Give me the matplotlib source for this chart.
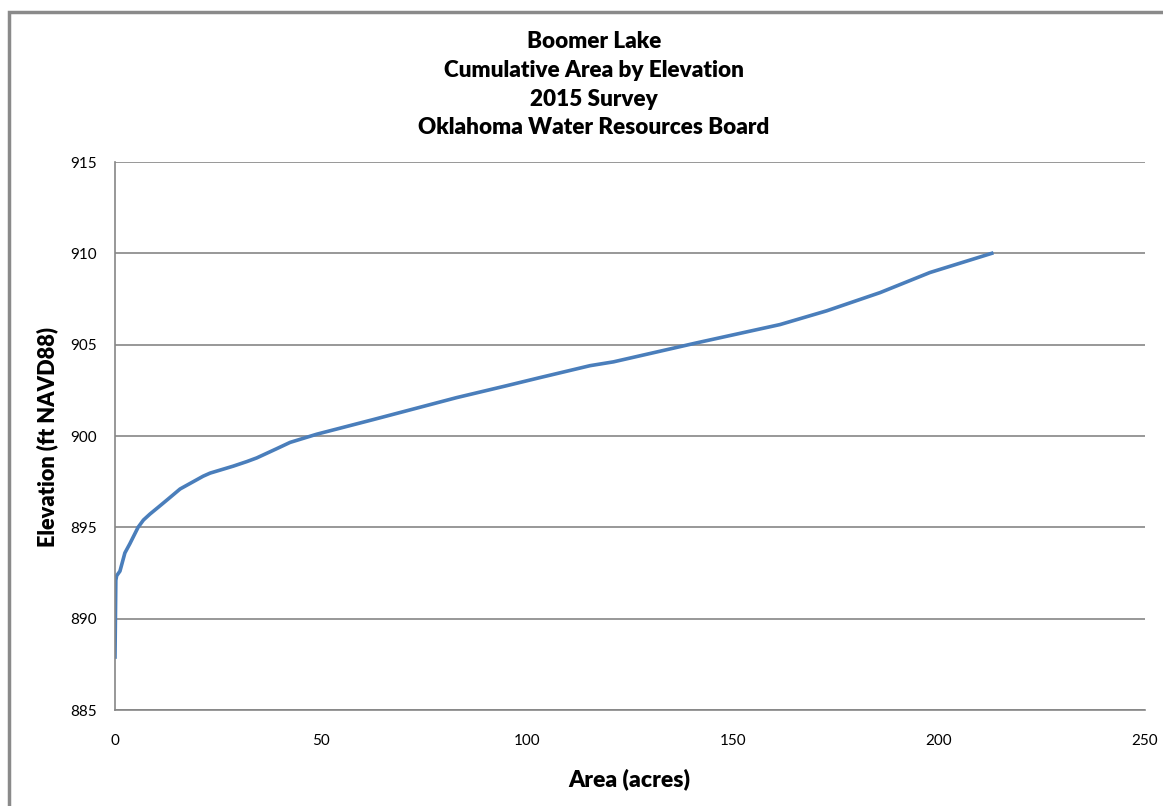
import matplotlib
matplotlib.use("Agg")
from matplotlib import pyplot as plt
from matplotlib.patches import Rectangle

# cumulative area (acres) vs elevation (ft NAVD88)
area = [0.0, 0.1, 0.2, 0.4, 1.2, 2.4, 3.6, 5.6, 6.9, 8.5, 10.5, 12.9, 15.8,
        18.2, 21.4, 23.1, 28.7, 32.0, 34.4, 39.2, 42.5, 49.0, 62.7, 82.9,
        95.0, 103.2, 115.3, 121.0, 141.2, 161.4, 172.7, 185.7, 197.8, 212.8]
elev = [887.9, 890.0, 892.1, 892.35, 892.6, 893.6, 894.1, 895.0, 895.4,
        895.73, 896.1, 896.55, 897.1, 897.4, 897.8, 897.97, 898.35, 898.6,
        898.8, 899.3, 899.65, 900.1, 900.9, 902.1, 902.75, 903.2, 903.85,
        904.06, 905.1, 906.1, 906.85, 907.85, 908.95, 910.0]

title_lines = ["Boomer Lake", "Cumulative Area by Elevation", "2015 Survey",
               "Oklahoma Water Resources Board"]
xticks = [0, 50, 100, 150, 200, 250]
yticks = [885, 890, 895, 900, 905, 910, 915]

plt.rcParams['font.family'] = ['Lato', 'DejaVu Sans']

fig = plt.figure(figsize=(11.63, 8.06), dpi=100)
renderer = fig.canvas.get_renderer()


def fit(txt, target, vertical=False):
    # scale the font so the text spans about `target` pixels
    bb = txt.get_window_extent(renderer)
    size = bb.height if vertical else bb.width
    txt.set_fontsize(txt.get_fontsize() * target / size)


fig.patches.append(Rectangle((8.5 / 1163, -0.1), 1.2, 1 + 0.1 - 11.5 / 806,
                             transform=fig.transFigure, fill=False,
                             edgecolor='#8a8a8a', linewidth=2.5))

ax = fig.add_axes([115 / 1163, 96 / 806, 1030 / 1163, 548 / 806])
ax.plot(area, elev, color='#4a7ebb', linewidth=2.6, solid_joinstyle='round')

ax.set_xlim(0, 250)
ax.set_ylim(885, 915)
ax.set_xticks(xticks)
ax.set_yticks(yticks)
ax.grid(axis='y', color='#868686', linewidth=1.2)
ax.set_axisbelow(True)
for s in ['top', 'right']:
    ax.spines[s].set_visible(False)
for s in ['left', 'bottom']:
    ax.spines[s].set_color('#868686')
    ax.spines[s].set_linewidth(1.2)
ax.tick_params(axis='y', length=0, pad=13, labelsize=11)
ax.tick_params(axis='x', length=0, pad=17, labelsize=11)

# axis titles placed by pixel position
xl = fig.text(629 / 1163, 1 - 779 / 806, "Area (acres)", ha='center',
              va='center', fontsize=15, fontweight='heavy')
fit(xl, 122)
yl = fig.text(47 / 1163, 1 - 437 / 806, "Elevation (ft NAVD88)", ha='center',
              va='center', rotation=90, fontsize=15, fontweight='heavy')
fit(yl, 221, vertical=True)

tl = []
for i, t in enumerate(title_lines):
    tl.append(fig.text(594 / 1163, 1 - (42 + i * 28.5) / 806, t, ha='center',
                       va='center', fontsize=14, fontweight='heavy'))
fit(tl[1], 300)
for t in tl:
    t.set_fontsize(tl[1].get_fontsize())

fig.savefig("out.png", dpi=100)
